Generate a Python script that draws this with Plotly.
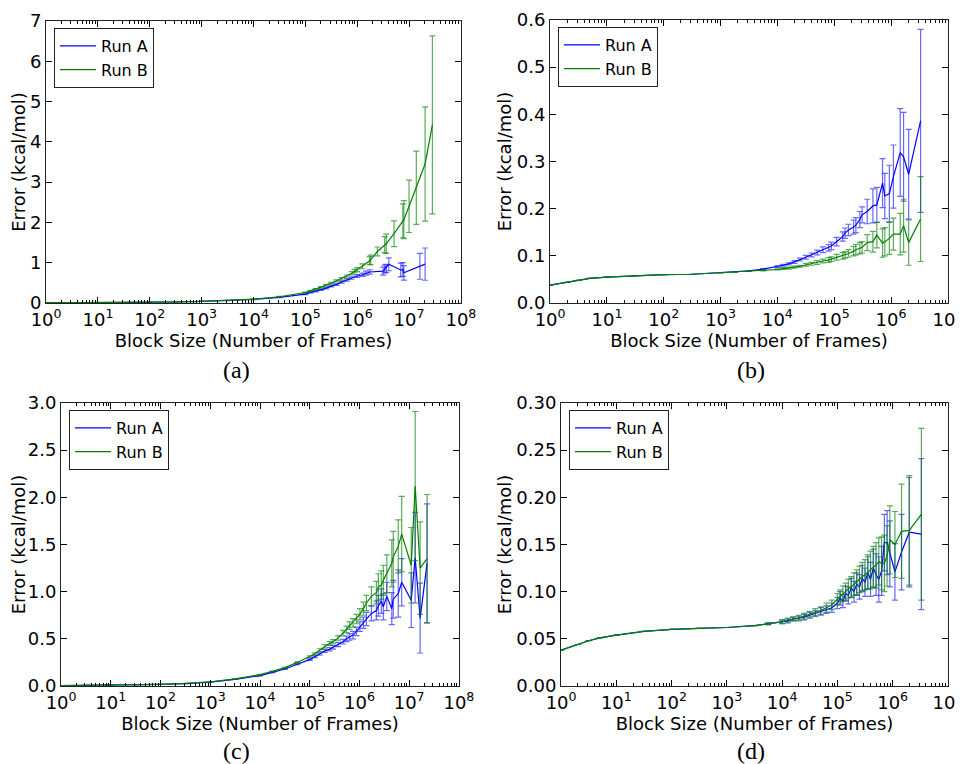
import plotly.graph_objects as go

# ---------------- data ----------------
series_names = ["Run A", "Run B"]
x_tick_values_8 = [1, 10, 100, 1e3, 1e4, 1e5, 1e6, 1e7, 1e8]
x_tick_labels_8 = ["10<sup>0</sup>", "10<sup>1</sup>", "10<sup>2</sup>", "10<sup>3</sup>", "10<sup>4</sup>",
                   "10<sup>5</sup>", "10<sup>6</sup>", "10<sup>7</sup>", "10<sup>8</sup>"]
x_tick_values_7 = [1, 10, 100, 1e3, 1e4, 1e5, 1e6, 1e7]
x_tick_labels_7 = ["10<sup>0</sup>", "10<sup>1</sup>", "10<sup>2</sup>", "10<sup>3</sup>", "10<sup>4</sup>",
                   "10<sup>5</sup>", "10<sup>6</sup>", "10<sup>7</sup>"]
panel_captions = ["(a)", "(b)", "(c)", "(d)"]
x_title = "Block Size (Number of Frames)"
y_title = "Error (kcal/mol)"

# panel (a)
x_a_A = [1, 3.16, 10, 31.6, 100, 316, 1e3, 3.16e3, 1e4, 3.16e4, 1e5, 1.26e5, 1.58e5, 2e5, 2.51e5,
         3.16e5, 3.98e5, 5.01e5, 6.31e5, 7.76e5, 1e6, 1.26e6, 1.48e6, 1.74e6, 3.16e6, 3.39e6, 3.63e6,
         4.07e6, 6.92e6, 7.59e6, 7.94e6, 1.62e7, 2.04e7]
y_a_A = [0.004, 0.006, 0.008, 0.012, 0.017, 0.025, 0.038, 0.058, 0.088, 0.14, 0.22, 0.26, 0.29, 0.33,
         0.37, 0.42, 0.46, 0.52, 0.57, 0.62, 0.67, 0.70, 0.74, 0.77, 0.79, 0.84, 0.86, 0.96, 0.82, 0.83,
         0.75, 0.91, 0.965]
err_a_A = [0, 0, 0, 0, 0, 0, 0, 0, 0.004, 0.006, 0.01, 0.012, 0.014, 0.016, 0.018,
           0.02, 0.022, 0.025, 0.028, 0.03, 0.035, 0.04, 0.05, 0.055, 0.1, 0.1, 0.1, 0.16, 0.17, 0.17,
           0.18, 0.32, 0.4]
x_a_B = [1, 3.16, 10, 31.6, 100, 316, 1e3, 3.16e3, 1e4, 3.16e4, 1e5, 1.26e5, 1.58e5, 2e5, 2.51e5,
         3.16e5, 3.98e5, 5.01e5, 6.31e5, 7.94e5, 8.91e5, 1e6, 1.26e6, 1.74e6, 1.82e6, 2.45e6, 3.39e6,
         3.63e6, 5.13e6, 7.59e6, 7.94e6, 1e7, 1.38e7, 2.04e7, 2.82e7]
y_a_B = [0.004, 0.006, 0.009, 0.013, 0.018, 0.027, 0.04, 0.062, 0.095, 0.155, 0.26, 0.30, 0.34, 0.39,
         0.44, 0.49, 0.55, 0.60, 0.66, 0.74, 0.79, 0.83, 0.91, 1.05, 1.07, 1.28, 1.45, 1.47, 1.72, 2.04,
         2.07, 2.40, 2.86, 3.45, 4.42]
err_a_B = [0, 0, 0, 0, 0, 0, 0, 0, 0.005, 0.008, 0.012, 0.014, 0.016, 0.018, 0.02,
           0.023, 0.026, 0.03, 0.035, 0.04, 0.045, 0.05, 0.06, 0.1, 0.12, 0.11, 0.2, 0.24, 0.32, 0.42,
           0.47, 0.65, 0.91, 1.42, 2.21]

# panel (b)
x_b = [1, 2, 3.16, 5.01, 10, 31.6, 100, 316, 1e3, 1.78e3, 3.16e3, 5.62e3, 1e4, 1.26e4, 1.58e4, 2e4,
       2.51e4, 3.16e4, 3.98e4, 5.01e4, 6.31e4, 7.94e4, 8.91e4, 1.1e5, 1.41e5, 1.55e5, 1.78e5, 2.19e5,
       2.4e5, 2.82e5, 3.09e5, 3.8e5, 4.79e5, 5.62e5, 7.08e5, 7.76e5, 9.33e5, 1.1e6, 1.45e6, 1.66e6,
       2.04e6, 3.31e6]
y_b_A = [0.038, 0.044, 0.048, 0.052, 0.055, 0.058, 0.060, 0.061, 0.064, 0.066, 0.068, 0.072, 0.077,
         0.080, 0.083, 0.087, 0.092, 0.097, 0.102, 0.107, 0.113, 0.117, 0.121, 0.130, 0.141, 0.148,
         0.155, 0.161, 0.165, 0.177, 0.187, 0.194, 0.206, 0.208, 0.254, 0.227, 0.232, 0.268, 0.319,
         0.310, 0.273, 0.386]
err_b_A = [0, 0, 0, 0, 0, 0, 0, 0, 0, 0, 0, 0.001, 0.002, 0.002, 0.002, 0.003, 0.003,
           0.004, 0.004, 0.005, 0.006, 0.007, 0.008, 0.009, 0.01, 0.011, 0.012, 0.015, 0.016, 0.017,
           0.017, 0.026, 0.036, 0.037, 0.052, 0.048, 0.06, 0.067, 0.093, 0.094, 0.095, 0.194]
y_b_B = [0.038, 0.044, 0.048, 0.052, 0.055, 0.058, 0.060, 0.061, 0.064, 0.065, 0.067, 0.069, 0.071,
         0.073, 0.074, 0.076, 0.078, 0.081, 0.083, 0.086, 0.089, 0.091, 0.093, 0.097, 0.100, 0.102,
         0.105, 0.110, 0.113, 0.116, 0.118, 0.128, 0.130, 0.144, 0.127, 0.130, 0.137, 0.146, 0.146,
         0.164, 0.128, 0.178]
err_b_B = [0, 0, 0, 0, 0, 0, 0, 0, 0, 0, 0, 0.001, 0.001, 0.002, 0.002, 0.002, 0.002,
           0.003, 0.003, 0.004, 0.004, 0.005, 0.005, 0.006, 0.007, 0.007, 0.008, 0.01, 0.011, 0.012,
           0.012, 0.017, 0.022, 0.027, 0.03, 0.03, 0.034, 0.034, 0.044, 0.056, 0.048, 0.09]

# panel (c)
x_c = [1, 3.16, 10, 31.6, 100, 316, 1e3, 3.16e3, 1e4, 1.78e4, 3.16e4, 5.62e4, 1e5, 1.26e5, 1.58e5,
       2e5, 2.51e5, 2.95e5, 3.72e5, 4.68e5, 5.5e5, 6.31e5, 7.41e5, 8.71e5, 1.02e6, 1.2e6, 1.38e6,
       1.74e6, 2.19e6, 2.4e6, 2.75e6, 3.02e6, 3.55e6, 4.47e6, 4.79e6, 6.03e6, 7.08e6, 1.1e7, 1.32e7,
       1.66e7, 2.29e7]
y_c_A = [0.005, 0.007, 0.009, 0.012, 0.017, 0.025, 0.042, 0.07, 0.11, 0.145, 0.18, 0.23, 0.28, 0.31,
         0.34, 0.37, 0.39, 0.41, 0.44, 0.47, 0.50, 0.52, 0.54, 0.58, 0.63, 0.67, 0.71, 0.77, 0.80, 0.85,
         0.90, 0.84, 0.95, 0.82, 0.92, 0.98, 1.10, 0.91, 1.36, 0.72, 1.30]
err_c_A = [0, 0, 0, 0, 0, 0, 0, 0, 0.002, 0.003, 0.004, 0.005, 0.008, 0.01, 0.012, 0.015,
           0.018, 0.02, 0.022, 0.025, 0.03, 0.035, 0.04, 0.045, 0.05, 0.06, 0.07, 0.08, 0.1, 0.11, 0.13,
           0.14, 0.15, 0.17, 0.2, 0.25, 0.25, 0.29, 0.48, 0.37, 0.63]
y_c_B = [0.005, 0.007, 0.01, 0.013, 0.018, 0.027, 0.045, 0.075, 0.12, 0.155, 0.195, 0.25, 0.31, 0.34,
         0.38, 0.42, 0.45, 0.47, 0.51, 0.56, 0.60, 0.64, 0.67, 0.71, 0.76, 0.82, 0.88, 0.95, 0.99, 1.05,
         1.07, 1.12, 1.19, 1.30, 1.37, 1.48, 1.61, 1.28, 2.12, 1.25, 1.35]
err_c_B = [0, 0, 0, 0, 0, 0, 0, 0, 0.002, 0.003, 0.004, 0.006, 0.01, 0.012, 0.015, 0.018,
           0.02, 0.022, 0.025, 0.03, 0.035, 0.04, 0.045, 0.05, 0.06, 0.07, 0.08, 0.1, 0.12, 0.14, 0.15,
           0.16, 0.2, 0.25, 0.27, 0.28, 0.4, 0.4, 0.79, 0.49, 0.68]

# panel (d)
x_d = [1, 2, 3.16, 5.01, 10, 31.6, 100, 316, 1e3, 3.16e3, 5.62e3, 1e4, 1.26e4, 1.58e4, 2e4, 2.51e4,
       3.16e4, 3.98e4, 5.01e4, 6.31e4, 7.94e4, 1e5, 1.12e5, 1.26e5, 1.41e5, 1.58e5, 1.78e5, 2e5,
       2.24e5, 2.51e5, 2.82e5, 3.16e5, 3.55e5, 3.98e5, 4.47e5, 5.01e5, 5.62e5, 6.31e5, 7.08e5, 7.94e5,
       8.91e5, 1.1e6, 1.45e6, 2e6, 3.31e6]
y_d_A = [0.038, 0.044, 0.048, 0.051, 0.054, 0.058, 0.060, 0.061, 0.062, 0.064, 0.066, 0.068, 0.069,
         0.071, 0.072, 0.073, 0.075, 0.077, 0.079, 0.081, 0.083, 0.088, 0.093, 0.090, 0.098, 0.096,
         0.104, 0.100, 0.108, 0.105, 0.114, 0.110, 0.120, 0.113, 0.125, 0.118, 0.113, 0.122, 0.152,
         0.152, 0.140, 0.121, 0.142, 0.163, 0.161]
err_d_A = [0, 0, 0, 0, 0, 0, 0, 0, 0, 0, 0.001, 0.002, 0.002, 0.002, 0.002, 0.003, 0.003,
           0.003, 0.004, 0.004, 0.005, 0.006, 0.007, 0.007, 0.008, 0.009, 0.01, 0.011, 0.012, 0.013,
           0.014, 0.015, 0.017, 0.018, 0.02, 0.022, 0.024, 0.026, 0.03, 0.034, 0.035, 0.03, 0.04,
           0.058, 0.08]
y_d_B = [0.038, 0.044, 0.048, 0.051, 0.054, 0.058, 0.060, 0.061, 0.062, 0.064, 0.066, 0.068, 0.070,
         0.071, 0.072, 0.074, 0.076, 0.078, 0.080, 0.083, 0.086, 0.092, 0.095, 0.098, 0.100, 0.103,
         0.105, 0.108, 0.110, 0.113, 0.116, 0.118, 0.121, 0.123, 0.126, 0.128, 0.132, 0.130, 0.130,
         0.138, 0.155, 0.150, 0.164, 0.165, 0.182]
err_d_B = [0, 0, 0, 0, 0, 0, 0, 0, 0, 0, 0.001, 0.002, 0.002, 0.002, 0.003, 0.003, 0.003,
           0.004, 0.004, 0.005, 0.005, 0.006, 0.007, 0.008, 0.009, 0.01, 0.011, 0.012, 0.013, 0.014,
           0.015, 0.016, 0.018, 0.02, 0.022, 0.024, 0.025, 0.028, 0.03, 0.032, 0.036, 0.035, 0.05,
           0.058, 0.091]

# ---------------- styling ----------------
W, H = 955, 764
OFF = 8  # page body margin: figure is drawn 8px from the page's top-left corner
BLUE, GREEN = "#0000ff", "#008000"
BLUE_ERR, GREEN_ERR = "rgba(40,40,255,0.7)", "rgba(0,128,0,0.65)"
SANS = "DejaVu Sans"
TICK_SIZE, TITLE_SIZE, LEGEND_SIZE = 18, 18, 16
EPS = 0.002  # keeps the last decade tick inside the axis range

# plot-area boxes in page pixels (left, right, top, bottom)
boxes = [(46, 461, 21, 303), (550, 948, 20, 303), (61, 459, 403, 686), (561, 948, 403, 686)]
caption_pos = [(236, 370), (751, 370), (236, 751), (751, 751)]

panels = [
    (x_a_A, y_a_A, err_a_A, x_a_B, y_a_B, err_a_B, 8, [0, 7], 1, ".0f"),
    (x_b, y_b_A, err_b_A, x_b, y_b_B, err_b_B, 7, [0, 0.6], 0.1, ".1f"),
    (x_c, y_c_A, err_c_A, x_c, y_c_B, err_c_B, 8, [0, 3.0], 0.5, ".1f"),
    (x_d, y_d_A, err_d_A, x_d, y_d_B, err_d_B, 7, [0, 0.30], 0.05, ".2f"),
]

def nz(arr):
    return [e if e > 0 else None for e in arr]

def px(xp):
    return (xp - OFF) / W

def py(yp):
    return 1 - (yp - OFF) / H

fig = go.Figure()
layout = dict(
    width=W, height=H, margin=dict(l=0, r=0, t=0, b=0, autoexpand=False),
    paper_bgcolor="white", plot_bgcolor="white",
    font=dict(family=SANS, size=TICK_SIZE, color="black"),
    annotations=[],
)

for i, (xA, yA, eA, xB, yB, eB, ndec, yr, ydt, yfmt) in enumerate(panels):
    n = "" if i == 0 else str(i + 1)
    leg = "legend" if i == 0 else "legend" + str(i + 1)
    xa, ya = "x" + n, "y" + n
    for xs, ys, es, name, col, ecol in [(xA, yA, eA, series_names[0], BLUE, BLUE_ERR),
                                        (xB, yB, eB, series_names[1], GREEN, GREEN_ERR)]:
        fig.add_trace(go.Scatter(
            x=xs, y=ys, mode="lines", name=name, xaxis=xa, yaxis=ya, legend=leg,
            line=dict(color=col, width=1.2),
            error_y=dict(type="data", array=nz(es), visible=True, color=ecol, thickness=1.2, width=3),
        ))
    l, r, t, b = boxes[i]
    is8 = ndec == 8
    layout["xaxis" + n] = dict(
        type="log", range=[-EPS, ndec + EPS], domain=[px(l), px(r)], anchor=ya, automargin=False,
        tickmode="array",
        tickvals=x_tick_values_8 if is8 else x_tick_values_7,
        ticktext=x_tick_labels_8 if is8 else x_tick_labels_7,
        ticklabeloverflow="allow",
        ticks="inside", ticklen=6, tickcolor="black", tickwidth=1,
        minor=dict(ticks="inside", ticklen=3, tickcolor="black", dtick="D1", showgrid=False),
        showline=True, linecolor="#222", linewidth=1, mirror="allticks",
        showgrid=False, zeroline=False,
        tickfont=dict(family=SANS, size=TICK_SIZE),
        title=dict(text=x_title, font=dict(family=SANS, size=TITLE_SIZE), standoff=0),
    )
    layout["yaxis" + n] = dict(
        range=yr, domain=[py(b), py(t)], anchor=xa, automargin=False,
        dtick=ydt, tick0=0, tickformat=yfmt, ticklabeloverflow="allow",
        ticks="inside", ticklen=6, tickcolor="black", tickwidth=1,
        showline=True, linecolor="#222", linewidth=1, mirror="allticks",
        showgrid=False, zeroline=False,
        tickfont=dict(family=SANS, size=TICK_SIZE),
        title=dict(text=y_title, font=dict(family=SANS, size=TITLE_SIZE), standoff=0),
    )
    layout[leg] = dict(
        x=px(l + 8), y=py(t + 7), xanchor="left", yanchor="top",
        bgcolor="white", bordercolor="#222", borderwidth=1, itemwidth=36,
        font=dict(family=SANS, size=LEGEND_SIZE), tracegroupgap=0,
    )
    cx, cy = caption_pos[i]
    layout["annotations"].append(dict(
        text=panel_captions[i], xref="paper", yref="paper",
        x=px(cx), y=py(cy),
        xanchor="center", yanchor="middle", showarrow=False,
        font=dict(family="Liberation Serif", size=24, color="black"),
    ))

fig.update_layout(**layout)
fig.write_html("out.html")
